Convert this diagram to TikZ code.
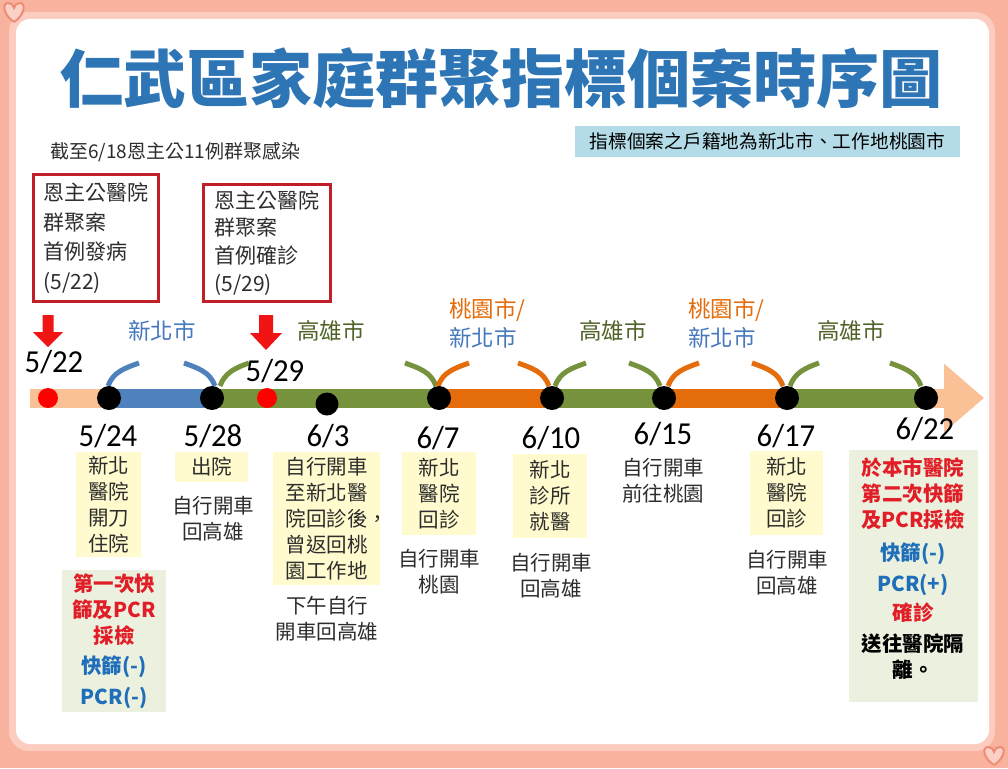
\documentclass[tikz,border=0pt]{standalone}
\usepackage{fontspec}
\usepackage{graphicx}
\setmainfont{Carlito}
\newfontfamily\cjk{Noto Sans CJK TC}
\usetikzlibrary{arrows.meta}

\definecolor{bingkai}{RGB}{249,178,158}
\definecolor{bingkaitua}{RGB}{238,140,118}
\definecolor{judul}{RGB}{46,117,182}
\definecolor{persik}{RGB}{250,192,150}
\definecolor{segbiru}{RGB}{79,129,189}
\definecolor{seghijau}{RGB}{118,146,60}
\definecolor{segjingga}{RGB}{228,108,10}
\definecolor{kotabiru}{RGB}{70,120,190}
\definecolor{kotahijau}{RGB}{79,98,40}
\definecolor{kotajingga}{RGB}{228,108,10}
\definecolor{merahpanah}{RGB}{240,20,20}
\definecolor{merahtua}{RGB}{192,30,40}
\definecolor{merahteks}{RGB}{225,30,40}
\definecolor{biruteks}{RGB}{30,110,185}
\definecolor{kuning}{RGB}{255,251,206}
\definecolor{hijaumuda}{RGB}{235,241,222}
\definecolor{birumuda}{RGB}{180,220,232}
\definecolor{abu}{RGB}{45,45,45}

\newcommand{\isi}{\cjk\fontsize{20.5}{26}\selectfont}
\newcommand{\isitebal}{\cjk\bfseries\fontsize{20.5}{26}\selectfont}
\newcommand{\tgl}[1]{\scalebox{0.96}[1]{#1}}
\newcommand{\merahk}[1]{\textcolor{merahteks}{#1}}
\newcommand{\biruk}[1]{\textcolor{biruteks}{#1}}

\begin{document}
\begin{tikzpicture}[x=1pt, y=1pt,
    kotakkuning/.style={fill=kuning, inner sep=0pt, align=center, text=abu, font=\isi},
    kotakhijau/.style={fill=hijaumuda, inner sep=0pt, align=center, font=\isitebal},
    teksbiasa/.style={inner sep=0pt, align=center, text=abu, font=\isi},
    kotakmerah/.style={draw=merahtua, line width=3pt, inner sep=0pt, align=left, text=abu},
    tanggal/.style={inner sep=0pt, font=\fontsize{32}{32}\selectfont},
    titik/.style={circle, fill=black, minimum size=24pt, inner sep=0pt},
    titikmerah/.style={circle, fill=red, minimum size=20pt, inner sep=0pt},
    ruas/.style={line width=19pt},
    lengkung/.style={line width=5pt},
    hati/.style={draw=bingkaitua, line width=2pt, fill=bingkai!60},
    kota/.style={inner sep=0pt, align=left, font=\cjk\fontsize{22.5}{29}\selectfont}]

    % Bingkai
    \fill[bingkai] (0,0) rectangle (1008,-768);
    \draw[white, line width=8pt, opacity=0.35, rounded corners=16pt] (13,-16) rectangle (991,-747);
    \fill[white, rounded corners=14pt] (16,-19) rectangle (989,-744);
    \draw[hati] (14,-22) .. controls (3,-15) and (2,-3) .. (8,-3)
        .. controls (11,-3) and (14,-5) .. (14,-8) .. controls (14,-5) and (17,-3) .. (20,-3)
        .. controls (26,-3) and (25,-15) .. (14,-22);
    \draw[hati] (994,-765) .. controls (983,-758) and (982,-747) .. (988,-747)
        .. controls (991,-747) and (994,-749) .. (994,-752) .. controls (994,-749) and (997,-747) .. (1000,-747)
        .. controls (1006,-747) and (1005,-758) .. (994,-765);

    % Judul dan catatan
    \node[text=judul, font=\cjk\bfseries\fontsize{63}{63}\selectfont, inner sep=0pt] (judul) at (501,-78) {仁武區家庭群聚指標個案時序圖};
    \node[anchor=west, inner sep=0pt, text=abu, font=\cjk\fontsize{19}{19}\selectfont] (catatan) at (50,-152) {截至6/18恩主公11例群聚感染};
    \node[fill=birumuda, minimum width=385pt, minimum height=31pt, inner sep=0pt, font=\cjk\fontsize{18.7}{18.7}\selectfont] (domisili) at (767.5,-141.5) {指標個案之戶籍地為新北市、工作地桃園市};

    % Kotak merah
    \node[kotakmerah, minimum width=125pt, minimum height=127pt, font=\cjk\fontsize{21}{29.5}\selectfont] (kasus1) at (96,-238) {恩主公醫院\\群聚案\\首例發病\\(5/22)};
    \node[kotakmerah, minimum width=127pt, minimum height=117pt, font=\cjk\fontsize{21}{27.7}\selectfont] (kasus2) at (267,-243) {恩主公醫院\\群聚案\\首例確診\\(5/29)};

    \fill[merahpanah] (42.5,-315) -- (53.5,-315) -- (53.5,-332) -- (63,-332) -- (48,-347) -- (33,-332) -- (42.5,-332) -- cycle;
    \fill[merahpanah] (259,-315) -- (273,-315) -- (273,-333) -- (282,-333) -- (266,-350) -- (250,-333) -- (259,-333) -- cycle;

    % Garis waktu
    \coordinate (awal) at (30,-398);
    \coordinate (ujung) at (984,-398);
    \coordinate (p522) at (48,-398);
    \coordinate (p524) at (109,-398);
    \coordinate (p528) at (212,-398);
    \coordinate (p529) at (267,-398);
    \coordinate (p603) at (327,-404);
    \coordinate (p607) at (439,-398);
    \coordinate (p610) at (552,-398);
    \coordinate (p615) at (664,-398);
    \coordinate (p617) at (787,-398);
    \coordinate (p622) at (926,-398);

    \draw[persik, line width=19pt, -{Triangle[length=40pt, width=66pt]}] (awal) -- (ujung);
    \draw[ruas, segbiru] (p524) -- (p528);
    \draw[ruas, seghijau] (p528) -- (p607);
    \draw[ruas, segjingga] (p607) -- (p610);
    \draw[ruas, seghijau] (p610) -- (p615);
    \draw[ruas, segjingga] (p615) -- (p617);
    \draw[ruas, seghijau] (p617) -- (p622);

    % Lengkung di atas garis
    \draw[lengkung, segbiru] ([shift={(-1,12)}]p524) to[out=70, in=200] ++(31,23);
    \draw[lengkung, segbiru] ([shift={(3,12)}]p528) to[out=110, in=-20] ++(-31,23);
    \draw[lengkung, seghijau] ([shift={(8,12)}]p528) to[out=70, in=200] ++(29,23);
    \draw[lengkung, seghijau] ([shift={(-3,12)}]p607) to[out=110, in=-20] ++(-31,23);
    \draw[lengkung, segjingga] ([shift={(-1,12)}]p607) to[out=70, in=200] ++(31,23);
    \draw[lengkung, segjingga] ([shift={(-3,12)}]p610) to[out=110, in=-20] ++(-31,23);
    \draw[lengkung, seghijau] ([shift={(3,12)}]p610) to[out=70, in=200] ++(31,23);
    \draw[lengkung, seghijau] ([shift={(-4,12)}]p615) to[out=110, in=-20] ++(-31,23);
    \draw[lengkung, segjingga] ([shift={(4,12)}]p615) to[out=70, in=200] ++(31,23);
    \draw[lengkung, segjingga] ([shift={(-4,12)}]p617) to[out=110, in=-20] ++(-31,23);
    \draw[lengkung, seghijau] ([shift={(3,12)}]p617) to[out=70, in=200] ++(29,23);
    \draw[lengkung, seghijau] ([shift={(-5,12)}]p622) to[out=110, in=-20] ++(-31,23);

    % Titik
    \node[titikmerah] (m522) at (p522) {};
    \node[titik] (t524) at (p524) {};
    \node[titik] (t528) at (p528) {};
    \node[titikmerah] (m529) at (p529) {};
    \node[titik, minimum size=23pt] (t603) at (p603) {};
    \node[titik] (t607) at (p607) {};
    \node[titik] (t610) at (p610) {};
    \node[titik] (t615) at (p615) {};
    \node[titik] (t617) at (p617) {};
    \node[titik] (t622) at (p622) {};

    % Tanggal
    \node[tanggal] (l522) at (54,-362) {\tgl{5/22}};
    \node[tanggal] (l529) at (275,-371) {\tgl{5/29}};
    \node[tanggal] (l524) at (108,-436) {\tgl{5/24}};
    \node[tanggal] (l528) at (213,-436) {\tgl{5/28}};
    \node[tanggal] (l603) at (328,-436) {\tgl{6/3}};
    \node[tanggal] (l607) at (438,-438) {\tgl{6/7}};
    \node[tanggal] (l610) at (551,-438) {\tgl{6/10}};
    \node[tanggal] (l615) at (663,-434) {\tgl{6/15}};
    \node[tanggal] (l617) at (786,-436) {\tgl{6/17}};
    \node[tanggal] (l622) at (925,-429) {\tgl{6/22}};

    % Nama kota
    \node[kota, text=kotabiru] (kbiru1) at (162,-331) {新北市};
    \node[kota, text=kotahijau] (khijau1) at (331,-331) {高雄市};
    \node[kota, anchor=west] (kcampur1) at (449,-323) {\textcolor{kotajingga}{桃園市/}\\\textcolor{kotabiru}{新北市}};
    \node[kota, text=kotahijau] (khijau2) at (613,-331) {高雄市};
    \node[kota, anchor=west] (kcampur2) at (688,-323) {\textcolor{kotajingga}{桃園市/}\\\textcolor{kotabiru}{新北市}};
    \node[kota, text=kotahijau] (khijau3) at (851,-331) {高雄市};

    % Keterangan tiap tanggal
    \node[kotakkuning, minimum width=65pt, minimum height=105pt] (k524) at (108.5,-504.5) {新北\\醫院\\開刀\\住院};
    \node[kotakhijau, minimum width=104pt, minimum height=142pt] (h524) at (114,-641) {\merahk{第一次快}\\\merahk{篩及PCR}\\\merahk{採檢}\\[4pt]\biruk{快篩(-)}\\[5pt]\biruk{PCR(-)}};
    \node[kotakkuning, minimum width=73pt, minimum height=30pt] (k528) at (211.5,-467) {出院};
    \node[teksbiasa] (b528) at (213,-518.5) {自行開車\\回高雄};
    \node[kotakkuning, minimum width=107pt, minimum height=133pt] (k603) at (326.5,-518.5) {自行開車\\至新北醫\\院回診後\rlap{，}\\曾返回桃\\園工作地};
    \node[teksbiasa] (b603) at (327,-618.5) {下午自行\\開車回高雄};
    \node[kotakkuning, minimum width=74pt, minimum height=83pt] (k607) at (439,-493.5) {新北\\醫院\\回診};
    \node[teksbiasa] (b607) at (439,-571.5) {自行開車\\桃園};
    \node[kotakkuning, minimum width=74pt, minimum height=84pt] (k610) at (550,-496) {新北\\診所\\就醫};
    \node[teksbiasa] (b610) at (551,-575.5) {自行開車\\回高雄};
    \node[teksbiasa] (b615) at (663,-480.5) {自行開車\\前往桃園};
    \node[kotakkuning, minimum width=73pt, minimum height=84pt] (k617) at (786.5,-493) {新北\\醫院\\回診};
    \node[teksbiasa] (b617) at (787,-572.5) {自行開車\\回高雄};
    \node[fill=hijaumuda, minimum width=129pt, minimum height=252pt, inner sep=0pt] (h622) at (913.5,-576) {};
    \node[inner sep=0pt, align=center, font=\isitebal] (t622) at (913,-568.5) {\merahk{於本市醫院}\\\merahk{第二次快篩}\\\merahk{及PCR採檢}\\[7pt]\biruk{快篩(-)}\\[5pt]\biruk{PCR(+)}\\[3pt]\merahk{確診}\\[5pt]送往醫院隔\\離。};

\end{tikzpicture}
\end{document}
